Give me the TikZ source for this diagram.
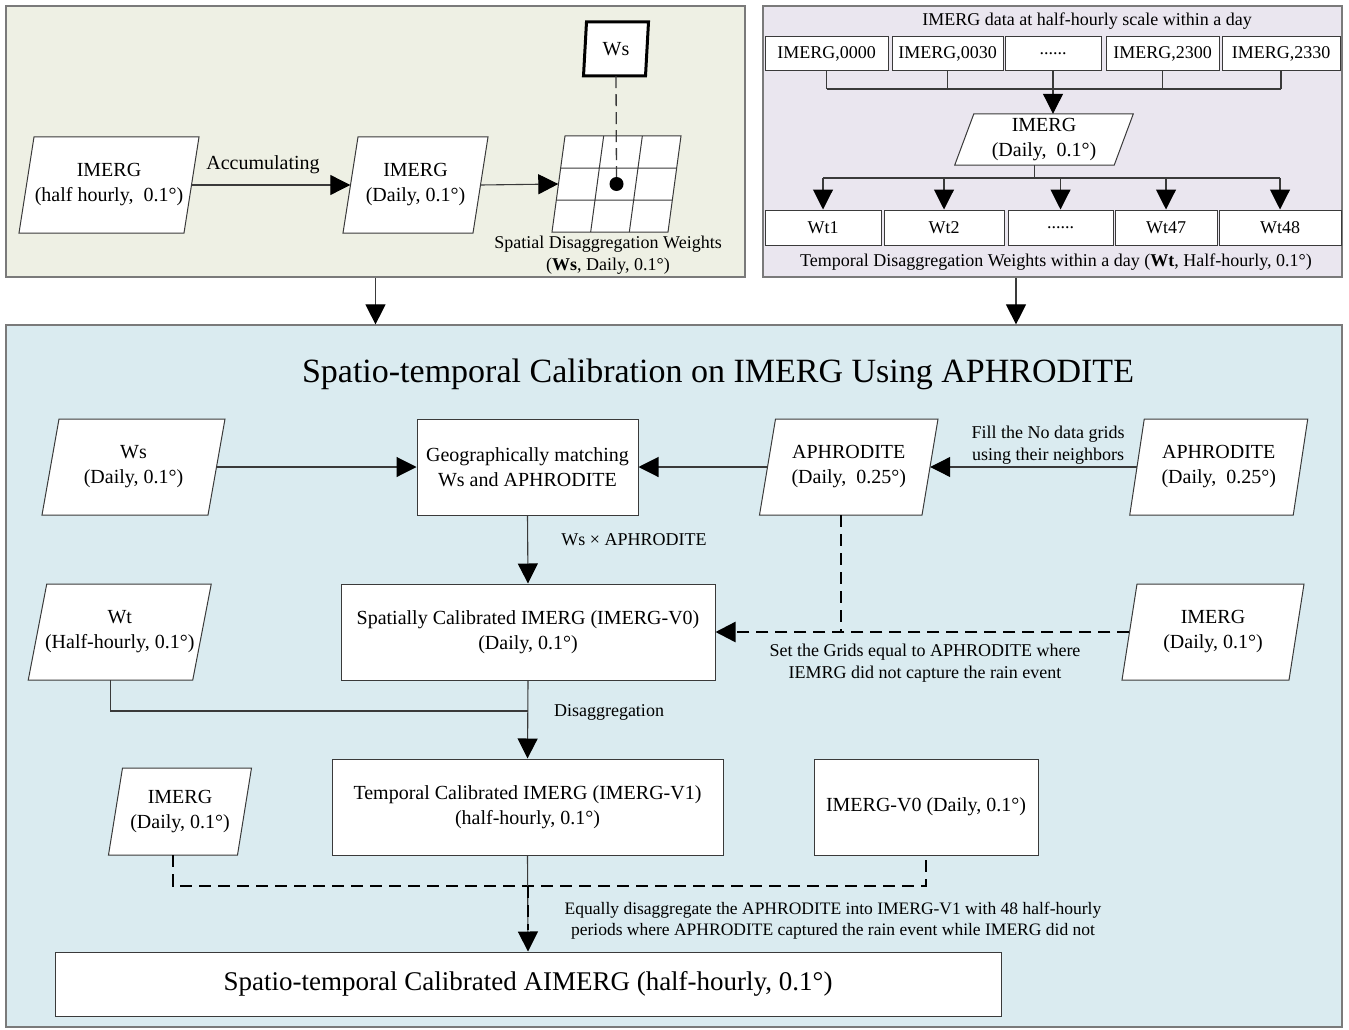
\documentclass[tikz,border=0pt]{standalone}
\usepackage{fontspec}
\setmainfont{Liberation Serif}
\usetikzlibrary{arrows.meta,calc}
\definecolor{tlfill}{HTML}{EEF0E4}
\definecolor{trfill}{HTML}{EAE6EF}
\definecolor{bfill}{HTML}{DAEBF0}
\definecolor{edge}{HTML}{3A3A3A}
\definecolor{pedge}{HTML}{7A7A7A}
\newcommand{\fsz}[2]{\fontsize{#1}{#2}\selectfont}
\tikzset{
  panel/.style={draw=pedge, line width=1.2pt, inner sep=0pt},
  rbox/.style={draw=edge, fill=white, line width=1pt, inner sep=1pt, align=center, font=\fsz{20}{25}},
  sbox/.style={draw=edge, fill=white, line width=1pt, inner sep=1pt, align=center, font=\fsz{18}{22}},
  parashape/.style={draw=edge, fill=white, line width=1pt},
  paratext/.style={inner sep=0pt, align=center, font=\fsz{20}{25}},
  lbl/.style={inner sep=0pt, align=center, font=\fsz{18}{22}},
  conn/.style={draw=edge, line width=1.1pt},
  arr/.style={conn, -{Triangle[length=20pt,width=20pt,color=black,fill=black]}},
  dashl/.style={draw=black, line width=2.4pt, dash pattern=on 12pt off 7pt},
  dasharr/.style={dashl, -{Triangle[length=20pt,width=20pt]}},
}
% #1 extra style, #2 name, #3 cx, #4 cy, #5 mid width, #6 height, #7 slant, #8 text
\newcommand{\paranode}[8][]{%
  \draw[parashape,#1] ({#3-#5/2+#7/2},{#4-#6/2}) -- ({#3+#5/2+#7/2},{#4-#6/2})
     -- ({#3+#5/2-#7/2},{#4+#6/2}) -- ({#3-#5/2-#7/2},{#4+#6/2}) -- cycle;
  \node[paratext, minimum width=#5, minimum height=#6] (#2) at (#3,#4) {#8};
}
\begin{document}
\begin{tikzpicture}[x=1pt,y=-1pt]
\useasboundingbox[fill=white] (0,0) rectangle (1349,1030);
% panels
\node[panel, fill=tlfill, minimum width=739, minimum height=271] (tlp) at (375.5,141.5) {};
\node[panel, fill=trfill, minimum width=579, minimum height=271] (trp) at (1052.5,141.5) {};
\node[panel, fill=bfill, minimum width=1336, minimum height=702] (bp) at (674,676) {};

% ---------- top-left ----------
\paranode{p1}{109}{185}{165}{96}{15}{IMERG\\(half hourly,~ 0.1°)}
\paranode{p2}{415.5}{185}{130}{96}{15}{IMERG\\(Daily, 0.1°)}
\paranode{grid}{616.5}{184}{116}{96}{13}{}
\draw[edge, line width=1pt] (560.67,168) -- (676.67,168) (556.33,200) -- (672.33,200)
  (603.67,136) -- (590.67,232) (642.33,136) -- (629.33,232);
\node[circle, fill=black, minimum size=14pt, inner sep=0pt] (dot) at (616.5,184) {};
\paranode[line width=3pt, draw=black]{wsb}{616}{49}{62}{54}{3}{Ws}
\draw[draw=edge, line width=1.3pt, dash pattern=on 12pt off 6pt] (wsb.south) -- (dot.north);
\draw[arr] (p1.east) -- (p2.west);
\node[inner sep=0pt, font=\fsz{20}{25}] (lacc) at (263,165) {Accumulating};
\draw[arr] (p2.east) -- (grid.west);
\node[lbl] (lsdw) at (608,255) {Spatial Disaggregation Weights\\(\textbf{Ws}, Daily, 0.1°)};

% ---------- top-right ----------
\node[lbl] (ltr) at (1087,21) {IMERG data at half-hourly scale within a day};
\node[sbox, minimum width=123, minimum height=34] (im0) at (826.5,54) {IMERG,0000};
\node[sbox, minimum width=111, minimum height=34] (im30) at (947.5,54) {IMERG,0030};
\node[sbox, minimum width=96, minimum height=34] (imdots) at (1053,54) {......};
\node[sbox, minimum width=113, minimum height=34] (im2300) at (1162.5,54) {IMERG,2300};
\node[sbox, minimum width=118, minimum height=34] (im2330) at (1281,54) {IMERG,2330};
\coordinate (trj) at (1053,89);
\foreach \n in {im0,im30,im2300,im2330} \draw[conn] (\n.south) -- (\n.south |- trj);
\draw[conn] (im0.south |- trj) -- (im2330.south |- trj);
\paranode{imd}{1044}{139.5}{159.5}{51}{19}{IMERG\\(Daily,~ 0.1°)}
\draw[arr] (imdots.south) -- (imdots.south |- imd.north);
\node[sbox, minimum width=116, minimum height=35] (wt1) at (823,227.5) {Wt1};
\node[sbox, minimum width=120, minimum height=35] (wt2) at (944,227.5) {Wt2};
\node[sbox, minimum width=105, minimum height=35] (wtdots) at (1060.5,227.5) {......};
\node[sbox, minimum width=102, minimum height=35] (wt47) at (1166,227.5) {Wt47};
\node[sbox, minimum width=122, minimum height=35] (wt48) at (1280,227.5) {Wt48};
\coordinate (imdb) at ([xshift=-9.5pt]imd.south);
\coordinate (trj2) at (1035,178);
\draw[conn] (imdb) -- (imdb |- trj2);
\draw[conn] (wt1.north |- trj2) -- (wt48.north |- trj2);
\foreach \n in {wt1,wt2,wtdots,wt47,wt48} \draw[arr] (\n.north |- trj2) -- (\n.north);
\node[lbl] (ltdw) at (1056,262) {Temporal Disaggregation Weights within a day (\textbf{Wt}, Half-hourly, 0.1°)};

% panel arrows
\draw[arr] (tlp.south) -- (tlp.south |- bp.north);
\draw[arr] ([xshift=-36.5pt]trp.south) -- ([xshift=-36.5pt]trp.south |- bp.north);

% ---------- bottom ----------
\node[inner sep=0pt, font=\fsz{34}{40}] (title) at (718,374) {Spatio-temporal Calibration on IMERG Using APHRODITE};
\paranode{ws2}{133.5}{467}{166}{96}{17}{Ws\\(Daily, 0.1°)}
\node[rbox, minimum width=221, minimum height=96] (geo) at (527.5,467) {Geographically matching\\Ws and APHRODITE};
\paranode{aph1}{848.75}{467}{162.5}{96}{16}{APHRODITE\\(Daily,~ 0.25°)}
\paranode{aph2}{1218.75}{467}{163.5}{96}{14.5}{APHRODITE\\(Daily,~ 0.25°)}
\draw[arr] (ws2.east) -- (geo.west);
\draw[arr] (aph1.west) -- (geo.east);
\draw[arr] (aph2.west) -- (aph1.east);
\node[lbl] (lfill) at (1048,445) {Fill the No data grids\\using their neighbors};
\node[rbox, minimum width=374, minimum height=96] (spat) at (528,632) {Spatially Calibrated IMERG (IMERG-V0)\\(Daily, 0.1°)};
\draw[arr] (geo.south) -- (spat.north);
\node[lbl] (lwsx) at (634,540) {Ws × APHRODITE};
\paranode{wt}{119.75}{632}{164.5}{96}{18.5}{Wt\\(Half-hourly, 0.1°)}
\paranode{imr}{1213}{632}{167}{96}{15}{IMERG\\(Daily, 0.1°)}
\draw[dashl] ([xshift=-8pt]aph1.south) -- ([xshift=-8pt]aph1.south |- spat.east);
\draw[dasharr] (imr.west) -- (spat.east);
\node[lbl] (lset) at (925,663) {Set the Grids equal to APHRODITE where\\IEMRG did not capture the rain event};
\node[rbox, minimum width=391, minimum height=96] (temp) at (527.5,807) {Temporal Calibrated IMERG (IMERG-V1)\\(half-hourly, 0.1°)};
\coordinate (j1) at (528,711);
\draw[conn] ([xshift=-9pt]wt.south) |- (j1);
\draw[arr] (spat.south) -- (temp.north);
\node[lbl] (ldis) at (609,712) {Disaggregation};
\node[rbox, minimum width=224, minimum height=96] (v0) at (926,807) {IMERG-V0 (Daily, 0.1°)};
\paranode{ims}{180}{811.5}{129}{87}{14}{IMERG\\(Daily, 0.1°)}
\node[draw=edge, fill=white, line width=1pt, minimum width=946, minimum height=64, font=\fsz{27}{32}] (fin) at (528,984) {Spatio-temporal Calibrated AIMERG (half-hourly, 0.1°)};
\coordinate (j2) at (528,886);
\draw[dashl] ([xshift=-7pt]ims.south) |- (j2) -| (v0.south);
\draw[arr] (temp.south) -- (fin.north);
\draw[dashl] (j2) -- ([yshift=22pt]fin.north);
\node[lbl, font=\fsz{17.5}{21}] (leq) at (833,921) {Equally disaggregate the APHRODITE into IMERG-V1 with 48 half-hourly\\periods where APHRODITE captured the rain event while IMERG did not};
\end{tikzpicture}
\end{document}
